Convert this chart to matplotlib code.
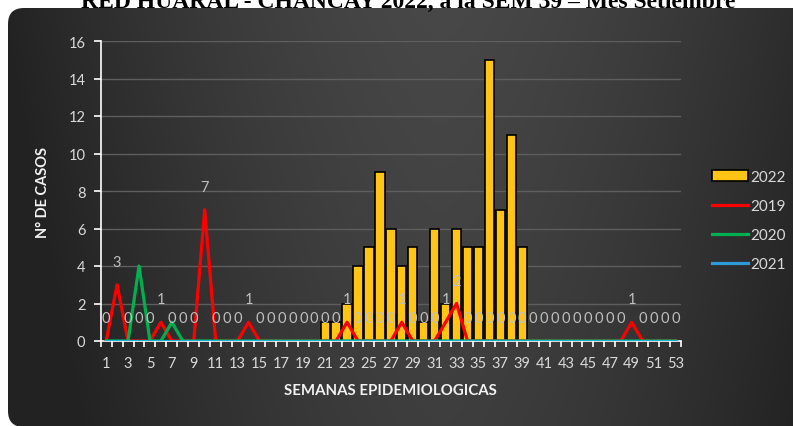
import matplotlib
matplotlib.use("Agg")
import matplotlib.pyplot as plt
import numpy as np
from matplotlib.patches import FancyBboxPatch, Patch
from matplotlib.lines import Line2D

weeks = list(range(1, 54))

cases_2022 = [0, 0, 0, 0, 0, 0, 0, 0, 0, 0, 0, 0, 0, 0, 0, 0, 0, 0, 0, 0,
              1, 1, 2, 4, 5, 9, 6, 4, 5, 1, 6, 2, 6, 5, 5, 15, 7, 11, 5,
              0, 0, 0, 0, 0, 0, 0, 0, 0, 0, 0, 0, 0, 0, 0]
cases_2019 = [0, 3, 0, 0, 0, 1, 0, 0, 0, 7, 0, 0, 0, 1, 0, 0, 0, 0, 0, 0,
              0, 0, 1, 0, 0, 0, 0, 1, 0, 0, 0, 1, 2, 0, 0, 0, 0, 0, 0, 0,
              0, 0, 0, 0, 0, 0, 0, 0, 1, 0, 0, 0, 0]
cases_2020 = [0, 0, 0, 4, 0, 0, 1, 0, 0, 0, 0, 0, 0, 0, 0, 0, 0, 0, 0, 0,
              0, 0, 0, 0, 0, 0, 0, 0, 0, 0, 0, 0, 0, 0, 0, 0, 0, 0, 0, 0,
              0, 0, 0, 0, 0, 0, 0, 0, 0, 0, 0, 0, 0]
cases_2021 = [0, 0, 0, 0, 0, 0, 0, 0, 0, 0, 0, 0, 0, 0, 0, 0, 0, 0, 0, 0,
              0, 0, 0, 0, 0, 0, 0, 0, 0, 0, 0, 0, 0, 0, 0, 0, 0, 0, 0, 0,
              0, 0, 0, 0, 0, 0, 0, 0, 0, 0, 0, 0, 0]

cases_2022 = cases_2022[:53]

title = "RED HUARAL - CHANCAY 2022, a la SEM 39 \u2013 Mes Setiembre"
xlabel = "SEMANAS EPIDEMIOLOGICAS"
ylabel = "N\u00b0 DE CASOS"

W, H = 793, 427
plt.rcParams["font.family"] = ["Lato", "DejaVu Sans"]

fig = plt.figure(figsize=(W / 100, H / 100), dpi=100)
fig.patch.set_facecolor("white")

# dark rounded background with soft gradient
bg = fig.add_axes([0, 0, 1, 1], zorder=0)
bg.set_xlim(0, W)
bg.set_ylim(0, H)
bg.axis("off")
xx, yy = np.meshgrid(np.arange(W), np.arange(H))
dx = np.abs(xx - 440) / 380.0
shade = 72 - 10 * (1 - yy / H) - 30 * dx ** 1.5
shade = np.clip(shade, 34, 76) / 255.0
img = np.dstack([shade, shade, shade])
box = FancyBboxPatch((8, -1), W + 40, H - 8,
                     boxstyle="round,pad=0,rounding_size=16",
                     transform=bg.transData, facecolor="none", edgecolor="none")
bg.add_patch(box)
im = bg.imshow(img, extent=(0, W, 0, H), origin="lower", aspect="auto")
im.set_clip_path(box)

fig.text(0.515, 1 - 7.5 / H, title, ha="center", va="baseline",
         fontsize=17, fontweight="bold", family=["Liberation Serif"], color="black")

ax = fig.add_axes([100.7 / W, 1 - 342 / H, (681 - 100.7) / W, 300 / H], zorder=1)
ax.set_facecolor("none")

light = "#d9d9d9"
ax.bar(weeks, cases_2022, width=0.85, color="#FFC414", edgecolor="black",
       linewidth=1.2, zorder=2)
ax.plot(weeks, cases_2019, color="#FF0000", lw=2.3, zorder=3)
ax.plot(weeks, cases_2020, color="#00B050", lw=2.3, zorder=3)
ax.plot(weeks, cases_2021, color="#1AAFC9", lw=2.3, zorder=4)

for w, v in zip(weeks, cases_2019):
    ax.annotate(str(v), (w, v), xytext=(0, 16.5), textcoords="offset points",
                ha="center", va="center", fontsize=10.5, color="#bfbfbf", zorder=5)

ax.set_xlim(0.5, 53.5)
ax.set_ylim(0, 16)
ax.set_yticks(range(0, 17, 2))
ax.set_xticks(weeks[::2])
ax.set_xticks(np.arange(0.5, 54, 1), minor=True)
ax.grid(axis="y", color="#5e5e5e", lw=1, zorder=0)
ax.set_axisbelow(True)

for s in ["top", "right"]:
    ax.spines[s].set_visible(False)
for s in ["left", "bottom"]:
    ax.spines[s].set_color("white")
    ax.spines[s].set_linewidth(1.2)

ax.tick_params(axis="x", which="major", length=0, pad=11, labelsize=10.5,
               labelcolor=light)
ax.tick_params(axis="x", which="minor", length=4, width=1.2, color="white",
               direction="out")
ax.tick_params(axis="y", length=5, width=1.2, color="white", labelsize=10.5,
               labelcolor=light, pad=6)

ax.set_xlabel(xlabel, fontsize=10.8, fontweight="bold", color="#f2f2f2", labelpad=9)
ax.set_ylabel(ylabel, fontsize=10.5, fontweight="bold", color="#f2f2f2", labelpad=13)

handles = [
    Patch(facecolor="#FFC414", edgecolor="black", linewidth=1.2),
    Line2D([], [], color="#FF0000", lw=2.3),
    Line2D([], [], color="#00B050", lw=2.3),
    Line2D([], [], color="#2E9BD6", lw=2.3),
]
fig.legend(handles, ["2022", "2019", "2020", "2021"], loc="center left",
           bbox_to_anchor=(704 / W, 1 - 221.5 / H), frameon=False,
           fontsize=11, labelcolor=light, handlelength=2.4, handletextpad=0.15,
           labelspacing=1.0, borderpad=0)

fig.savefig("out.png", dpi=100)
